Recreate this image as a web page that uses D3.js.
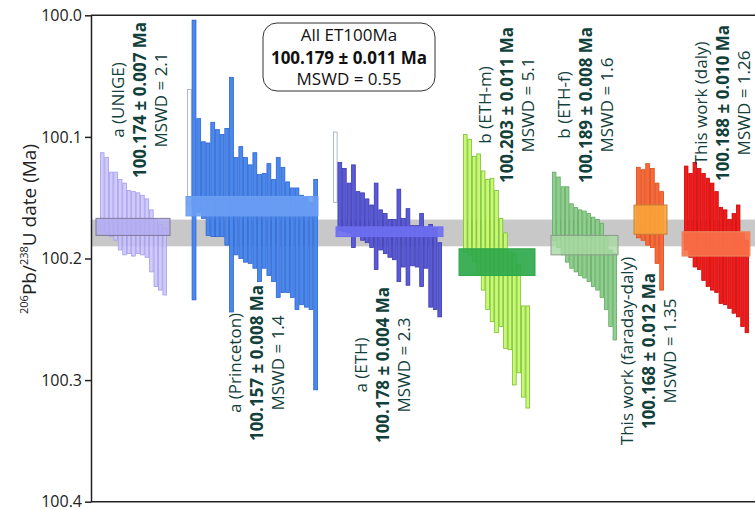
<!DOCTYPE html>
<html>
<head>
<meta charset="utf-8" />
<title>ET100Ma ranked 206Pb/238U dates</title>
<script src="https://d3js.org/d3.v7.min.js"></script>
<style>
  body { margin: 0; background: #fff; }
  svg text { font-family: "Open Sans", sans-serif; }
</style>
</head>
<body>
<div id="chart"></div>
<script>
// group summaries
const groupNames = ["a (UNIGE)", "a (Princeton)", "a (ETH)", "b (ETH-m)", "b (ETH-f)", "This work (faraday-daly)", "This work (daly)"];
const groupMeans = [100.174, 100.157, 100.178, 100.203, 100.189, 100.168, 100.188];
const groupErrs = [0.007, 0.008, 0.004, 0.011, 0.008, 0.012, 0.010];
const groupMswd = ["2.1", "1.4", "2.3", "5.1", "1.6", "1.35", "1.26"];
const allMean = 100.179, allErr = 0.011, allMswd = "0.55";

// single grain dates, [young end, old end] of each bar (Ma)
const unige = [[100.113,100.177],[100.117,100.179],[100.129,100.182],[100.129,100.185],[100.135,100.193],
  [100.138,100.197],[100.144,100.196],[100.145,100.198],[100.146,100.196],[100.148,100.197],
  [100.151,100.199],[100.160,100.211],[100.168,100.223],[100.172,100.226],[100.175,100.230]];
const princeton = [[100.004,100.234],[100.085,100.162],[100.104,100.167],[100.105,100.181],[100.088,100.182],
  [100.094,100.182],[100.098,100.182],[100.093,100.189],[100.051,100.244],[100.117,100.197],
  [100.108,100.200],[100.117,100.203],[100.123,100.204],[100.113,100.208],[100.131,100.219],
  [100.130,100.208],[100.122,100.214],[100.135,100.219],[100.117,100.232],[100.125,100.228],
  [100.137,100.228],[100.142,100.232],[100.142,100.242],[100.148,100.238],[100.150,100.240],
  [100.154,100.242],[100.135,100.308]];
const eth = [[100.121,100.177],[100.126,100.178],[100.138,100.179],[100.123,100.191],[100.145,100.182],
  [100.146,100.185],[100.151,100.187],[100.156,100.191],[100.138,100.209],[100.160,100.193],
  [100.163,100.196],[100.168,100.199],[100.168,100.201],[100.143,100.219],[100.167,100.207],
  [100.159,100.222],[100.173,100.206],[100.173,100.207],[100.163,100.223],[100.174,100.208],
  [100.172,100.240],[100.175,100.242],[100.187,100.248]];
const ethM = [[100.098,100.195],[100.102,100.197],[100.116,100.203],[100.114,100.214],[100.128,100.226],
  [100.135,100.242],[100.134,100.252],[100.144,100.261],[100.167,100.256],[100.179,100.274],
  [100.195,100.275],[100.196,100.304],[100.205,100.294],[100.239,100.314],[100.239,100.323]];
const ethF = [[100.129,100.185],[100.133,100.191],[100.141,100.197],[100.141,100.203],[100.155,100.208],
  [100.158,100.211],[100.160,100.214],[100.161,100.216],[100.163,100.219],[100.166,100.223],
  [100.168,100.226],[100.171,100.232],[100.182,100.242],[100.193,100.256],[100.196,100.267]];
const faraday = [[100.125,100.183],[100.127,100.185],[100.122,100.189],[100.126,100.191],[100.138,100.204],
  [100.145,100.226]];
const daly = [[100.124,100.193],[100.130,100.199],[100.121,100.207],[100.126,100.209],[100.130,100.218],
  [100.134,100.223],[100.138,100.226],[100.145,100.228],[100.158,100.237],[100.160,100.238],
  [100.168,100.241],[100.163,100.245],[100.156,100.248],[100.179,100.256],[100.185,100.261]];
const grains = [unige, princeton, eth, ethM, ethF, faraday, daly];
// rejected grains (drawn hollow, first slot of the group)
const rejected = [[], [[100.061,100.156]], [[100.096,100.154]], [], [], [], []];

const yTicks = [100.0, 100.1, 100.2, 100.3, 100.4];

// layout
const width = 755, height = 510;
const plotLeft = 91, plotTop = 15.3, plotBottom = 501.7;
const barSpan = [[100,167],[187,318],[333,442],[463,530],[552,617],[636,664],[684,749]];
const boxSpan = [[96,170],[186,318],[336,443],[459,535],[551,618],[634,667],[682,750]];
const labelX = [124, 241, 367, 491, 570, 633, 707];
const labelY = [100, 363, 365, 105, 105, 351, 103];
const lineGap = 21.5;

const barFill = ["#c8c2f8","#4b88ec","#5a5ad6","#c8f874","#90cf8f","#f86a3a","#f41a1a"];
const barStroke = ["#a49cf0","#2c64d2","#3a3ab0","#78c032","#62aa62","#da4a1a","#c80808"];
const boxFill = ["#b3acf3","#6b9ef4","#6e6ef2","#2fa84b","#a9d9a4","#f8a33a","#f87249"];
const boxStroke = ["#807898","#6b9ef4","#6e6ef2","#2fa84b","#8a9a8a","#c88038","#e88a60"];
const boxOpacity = [0.8, 0.9, 0.9, 0.92, 0.8, 0.92, 0.9];
const textColor = "#12403a";

const svg = d3.select("#chart").append("svg")
  .attr("width", width).attr("height", height);

const y = d3.scaleLinear().domain([100.0, 100.4]).range([plotTop, plotBottom]);

// overall weighted mean band
svg.append("rect")
  .attr("x", plotLeft).attr("width", width - plotLeft)
  .attr("y", y(allMean - allErr))
  .attr("height", y(allMean + allErr) - y(allMean - allErr))
  .attr("fill", "#c8c8c8");

grains.forEach((bars, gi) => {
  const rej = rejected[gi];
  const all = rej.map(d => ({lo: d[0], hi: d[1], rej: true}))
    .concat(bars.map(d => ({lo: d[0], hi: d[1], rej: false})));
  const x = d3.scaleBand().domain(d3.range(all.length)).range(barSpan[gi]).padding(0);
  const g = svg.append("g");
  g.selectAll("rect").data(all).enter().append("rect")
    .attr("x", (d, i) => x(i) + 0.4)
    .attr("width", x.bandwidth() - 0.8)
    .attr("y", d => y(d.lo))
    .attr("height", d => y(d.hi) - y(d.lo))
    .attr("fill", d => d.rej ? "#fff" : barFill[gi])
    .attr("fill-opacity", gi === 0 ? 0.85 : 1)
    .attr("stroke", d => d.rej ? "#9aa8bc" : barStroke[gi])
    .attr("stroke-width", 0.8);
});

// group weighted means
svg.append("g").selectAll("rect").data(groupMeans).enter().append("rect")
  .attr("x", (d, i) => boxSpan[i][0])
  .attr("width", (d, i) => boxSpan[i][1] - boxSpan[i][0])
  .attr("y", (d, i) => y(d - groupErrs[i]))
  .attr("height", (d, i) => y(d + groupErrs[i]) - y(d - groupErrs[i]))
  .attr("fill", (d, i) => boxFill[i])
  .attr("fill-opacity", (d, i) => boxOpacity[i])
  .attr("stroke", (d, i) => boxStroke[i])
  .attr("stroke-width", 1);

// group labels (rotated)
groupNames.forEach((name, i) => {
  const t = svg.append("text")
    .attr("transform", `translate(${labelX[i]},${labelY[i]}) rotate(-90)`)
    .attr("text-anchor", "middle")
    .attr("fill", textColor)
    .style("font-size", "17px");
  t.append("tspan").attr("x", 0).attr("y", 0).text(name);
  t.append("tspan").attr("x", 0).attr("y", lineGap).style("font-weight", "bold")
    .text(groupMeans[i].toFixed(3) + " \u00b1 " + groupErrs[i].toFixed(3) + " Ma");
  t.append("tspan").attr("x", 0).attr("y", lineGap * 2).text("MSWD = " + groupMswd[i]);
});

// frame
svg.append("line").attr("x1", plotLeft).attr("x2", width).attr("y1", plotTop).attr("y2", plotTop)
  .attr("stroke", "#222").attr("stroke-width", 1.5);
svg.append("line").attr("x1", plotLeft).attr("x2", width).attr("y1", plotBottom).attr("y2", plotBottom)
  .attr("stroke", "#222").attr("stroke-width", 1.5);

const axis = svg.append("g")
  .attr("transform", `translate(${plotLeft},0)`)
  .call(d3.axisLeft(y).tickValues(yTicks).tickFormat(d3.format(".1f")).tickSize(6).tickSizeOuter(0).tickPadding(3));
axis.select(".domain").attr("stroke", "#222").attr("stroke-width", 1.5);
axis.selectAll(".tick line").attr("stroke", "#222").attr("stroke-width", 1.5);
axis.selectAll(".tick text").attr("fill", "#222").style("font-size", "16px")
  .style("font-family", "'Open Sans', sans-serif");

// y axis title
const title = svg.append("text")
  .attr("transform", `translate(36,${229}) rotate(-90)`)
  .attr("text-anchor", "middle")
  .attr("fill", "#222")
  .style("font-size", "19px");
title.append("tspan").style("font-size", "11px").attr("dy", "-8").text("206");
title.append("tspan").attr("dy", "8").text("Pb/");
title.append("tspan").style("font-size", "11px").attr("dy", "-8").text("238");
title.append("tspan").attr("dy", "8").text("U date (Ma)");

// overall summary box
const sb = svg.append("g");
sb.append("rect").attr("x", 263).attr("y", 23).attr("width", 172).attr("height", 68)
  .attr("rx", 14).attr("fill", "#fff").attr("stroke", "#333").attr("stroke-width", 1);
const st = sb.append("text").attr("text-anchor", "middle").attr("fill", "#111").style("font-size", "17px");
st.append("tspan").attr("x", 349).attr("y", 41).text("All ET100Ma");
st.append("tspan").attr("x", 349).attr("y", 63.5).style("font-weight", "bold")
  .text(allMean.toFixed(3) + " \u00b1 " + allErr.toFixed(3) + " Ma");
st.append("tspan").attr("x", 349).attr("y", 85).text("MSWD = " + allMswd);
</script>
</body>
</html>
